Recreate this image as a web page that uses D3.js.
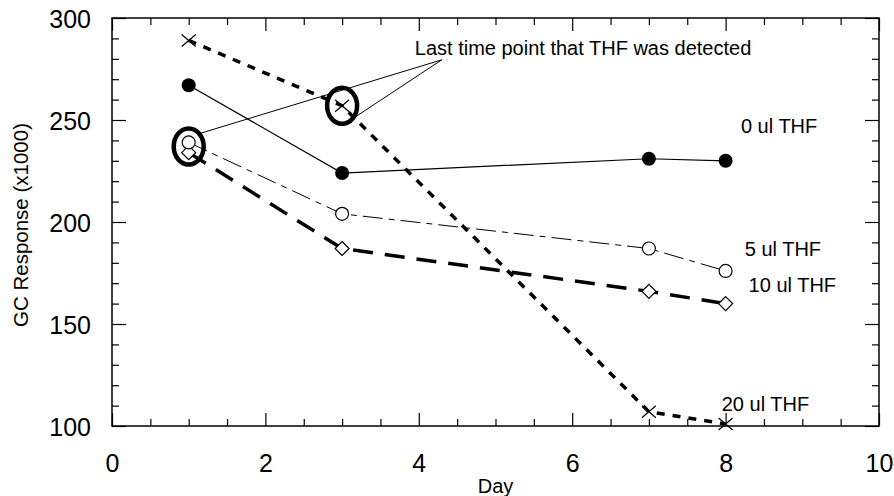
<!DOCTYPE html>
<html>
<head>
<meta charset="utf-8">
<script src="https://cdn.jsdelivr.net/npm/d3@7"></script>
<style>
  body { margin: 0; background: #fff; }
  svg { font-family: "Liberation Sans", Arial, sans-serif; }
</style>
</head>
<body>
<svg id="chart" width="894" height="496"></svg>
<script>
// data
const days = [1, 3, 7, 8];
const thf0 = [267, 224, 231, 230];
const thf5 = [239, 204, 187, 176];
const thf10 = [234, 187, 166, 160];
const thf20 = [289, 257, 107, 101];
const seriesNames = ['0 ul THF', '5 ul THF', '10 ul THF', '20 ul THF'];
const xTicks = [0, 2, 4, 6, 8, 10];
const yTicks = [100, 150, 200, 250, 300];
// circled "last detected" points and the note that points to them
const circled = [[1, 237], [3, 257]];
const noteAnchor = [4.3, 279.5];
const noteText = 'Last time point that THF was detected';

const margin = {top: 18, left: 112, right: 15, bottom: 70};
const width = 894 - margin.left - margin.right,
    height = 496 - margin.top - margin.bottom;

const svg = d3.select('#chart');
const g = svg.append('g').attr('transform', `translate(${margin.left},${margin.top})`);

const x = d3.scaleLinear().domain([0, 10]).range([0, width]);
const y = d3.scaleLinear().domain([100, 300]).range([height, 0]);

// axes, ticks inward on all four sides
const xMinor = d3.range(0, 10.01, 0.5).filter(d => d % 2 !== 0);
const yMinor = d3.range(100, 301, 10).filter(d => d % 50 !== 0);

function styleAxis(sel) {
  sel.select('.domain').remove();
  sel.selectAll('line').attr('stroke', '#000').attr('stroke-width', 1.2);
  sel.selectAll('text').attr('font-size', 25).attr('fill', '#000');
}

g.append('g').attr('transform', `translate(0,${height})`)
    .call(d3.axisBottom(x).tickValues(xTicks).tickSize(-13).tickSizeOuter(0).tickPadding(28))
    .call(styleAxis);
g.append('g').attr('transform', `translate(0,${height})`)
    .call(d3.axisBottom(x).tickValues(xMinor).tickSize(-7).tickSizeOuter(0).tickFormat(''))
    .call(styleAxis);
g.append('g')
    .call(d3.axisTop(x).tickValues(xTicks).tickSize(-13).tickSizeOuter(0).tickFormat(''))
    .call(styleAxis);
g.append('g')
    .call(d3.axisTop(x).tickValues(xMinor).tickSize(-7).tickSizeOuter(0).tickFormat(''))
    .call(styleAxis);
g.append('g')
    .call(d3.axisLeft(y).tickValues(yTicks).tickSize(-14).tickSizeOuter(0).tickPadding(21))
    .call(styleAxis)
    .selectAll('text').attr('dy', '0.36em');
g.append('g')
    .call(d3.axisLeft(y).tickValues(yMinor).tickSize(-7).tickSizeOuter(0).tickFormat(''))
    .call(styleAxis);
g.append('g').attr('transform', `translate(${width},0)`)
    .call(d3.axisRight(y).tickValues(yTicks).tickSize(-14).tickSizeOuter(0).tickFormat(''))
    .call(styleAxis);
g.append('g').attr('transform', `translate(${width},0)`)
    .call(d3.axisRight(y).tickValues(yMinor).tickSize(-7).tickSizeOuter(0).tickFormat(''))
    .call(styleAxis);

g.append('rect').attr('width', width).attr('height', height)
    .attr('fill', 'none').attr('stroke', '#000').attr('stroke-width', 1.5);

// axis titles
g.append('text').attr('x', x(5)).attr('y', height + 67)
    .attr('text-anchor', 'middle').attr('font-size', 20).text('Day');
svg.append('text')
    .attr('transform', `translate(28,${margin.top + height / 2 + 3}) rotate(-90)`)
    .attr('text-anchor', 'middle').attr('font-size', 20.5).text('GC Response (x1000)');

// series lines
const series = [
  {vals: thf0, width: 1.2, dash: null},
  {vals: thf5, width: 1, dash: '20,6,6,6'},
  {vals: thf10, width: 3.5, dash: '20,12'},
  {vals: thf20, width: 3.5, dash: '8,8'}
];
const line = d3.line().x(d => x(d[0])).y(d => y(d[1]));
series.forEach(s => {
  g.append('path').datum(days.map((d, i) => [d, s.vals[i]]))
      .attr('d', line).attr('fill', 'none').attr('stroke', '#000')
      .attr('stroke-width', s.width).attr('stroke-dasharray', s.dash);
});

// markers
g.selectAll('.m20').data(days).join('path')
    .attr('transform', (d, i) => `translate(${x(d)},${y(thf20[i])})`)
    .attr('d', 'M-7,-6L7,6M-7,6L7,-6').attr('stroke', '#000').attr('stroke-width', 1.2);
g.selectAll('.m10').data(days).join('path')
    .attr('transform', (d, i) => `translate(${x(d)},${y(thf10[i])})`)
    .attr('d', 'M0,-7L7,0L0,7L-7,0Z').attr('fill', '#fff').attr('stroke', '#000').attr('stroke-width', 1.2);
g.selectAll('.m5').data(days).join('circle')
    .attr('cx', d => x(d)).attr('cy', (d, i) => y(thf5[i])).attr('r', 6.5)
    .attr('fill', '#fff').attr('stroke', '#000').attr('stroke-width', 1.2);
g.selectAll('.m0').data(days).join('circle')
    .attr('cx', d => x(d)).attr('cy', (d, i) => y(thf0[i])).attr('r', 7)
    .attr('fill', '#000');

// series labels
const labelPos = [[8.2, 243.5], [8.25, 183.5], [8.3, 165.5], [7.95, 107.5]];
seriesNames.forEach((n, i) => {
  g.append('text').attr('x', x(labelPos[i][0])).attr('y', y(labelPos[i][1]))
      .attr('font-size', 20).text(n);
});

// annotation: ellipses and pointer lines
circled.forEach(c => {
  g.append('ellipse').attr('cx', x(c[0])).attr('cy', y(c[1]))
      .attr('rx', 15).attr('ry', 18)
      .attr('fill', 'none').attr('stroke', '#000').attr('stroke-width', 4.5);
});
const ax = x(noteAnchor[0]), ay = y(noteAnchor[1]);
g.append('line').attr('x1', ax).attr('y1', ay)
    .attr('x2', x(circled[0][0]) + 11).attr('y2', y(circled[0][1]) - 13)
    .attr('stroke', '#000').attr('stroke-width', 1);
g.append('line').attr('x1', ax).attr('y1', ay)
    .attr('x2', x(circled[1][0]) + 15).attr('y2', y(circled[1][1]) + 10)
    .attr('stroke', '#000').attr('stroke-width', 1);
g.append('text').attr('x', x(noteAnchor[0]) - 27).attr('y', ay - 5)
    .attr('font-size', 20).text(noteText);
</script>
</body>
</html>
